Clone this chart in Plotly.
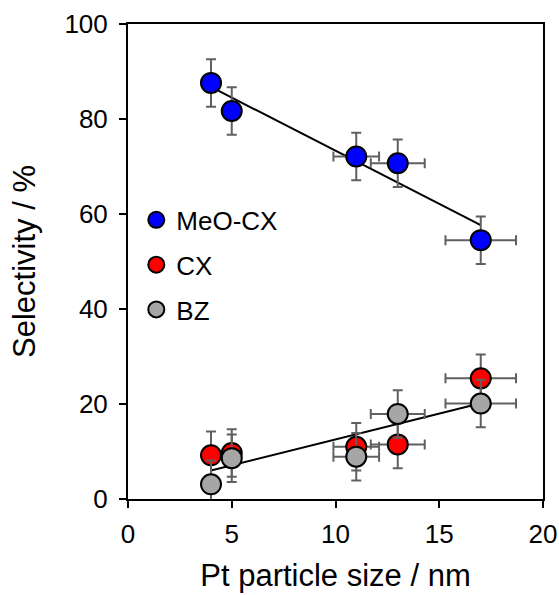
import numpy as np
import plotly.graph_objects as go

# Data
size_nm = [4.0, 5.0, 11.0, 13.0, 17.0]
size_err = [0.0, 0.0, 1.1, 1.3, 1.7]
meo_cx = [87.6, 81.7, 72.1, 70.7, 54.5]
cx = [9.2, 9.7, 11.0, 11.5, 25.4]
bz = [3.1, 8.6, 8.9, 17.9, 20.1]
sel_err = [5.0, 5.0, 5.0, 5.0, 5.0]

FONT = "Liberation Sans, Arial, sans-serif"
ERR_COLOR = "#606060"

fig = go.Figure()

# Linear trend lines (fit to the data)
xs = np.array(size_nm)
xline = np.array([xs.min(), xs.max()])
p_up = np.polyfit(xs, np.array(meo_cx), 1)
p_low = np.polyfit(np.concatenate([xs, xs]), np.concatenate([cx, bz]), 1)
for p in (p_up, p_low):
    fig.add_trace(go.Scatter(x=xline, y=np.polyval(p, xline), mode="lines",
                             line=dict(color="black", width=2),
                             showlegend=False, hoverinfo="skip"))

series = [("MeO-CX", meo_cx, "#0000ff"), ("CX", cx, "#ff0000"), ("BZ", bz, "#a6a6a6")]
for name, vals, col in series:
    fig.add_trace(go.Scatter(
        x=size_nm, y=vals, mode="markers", name=name, legendgroup=name,
        marker=dict(size=20, color=col, line=dict(color="black", width=2)),
        error_y=dict(type="data", array=sel_err, visible=True, color=ERR_COLOR,
                     thickness=2, width=5),
        error_x=dict(type="data", array=size_err, visible=True, color=ERR_COLOR,
                     thickness=2, width=5),
        cliponaxis=False,
    ))

axis_common = dict(showline=True, linecolor="black", linewidth=2, mirror=True,
                   ticks="outside", ticklen=7, tickwidth=2, tickcolor="black",
                   showgrid=False, zeroline=False, automargin=False,
                   tickfont=dict(family=FONT, size=26, color="black"))

fig.update_layout(
    width=559, height=595,
    margin=dict(l=128, r=16, t=24, b=96),
    paper_bgcolor="white", plot_bgcolor="white",
    font=dict(family=FONT, color="black"),
    xaxis=dict(range=[0, 20], dtick=5, ticklabelstandoff=4,
               title=dict(text="Pt particle size / nm", font=dict(family=FONT, size=31), standoff=16),
               **axis_common),
    yaxis=dict(range=[0, 100], dtick=20, ticklabelstandoff=6,
               title=dict(text="Selectivity / %", font=dict(family=FONT, size=31), standoff=20),
               **axis_common),
    legend=dict(x=0.02, y=0.637, xanchor="left", yanchor="top",
                bgcolor="rgba(0,0,0,0)", borderwidth=0,
                font=dict(family=FONT, size=26, color="black"),
                tracegroupgap=8, itemsizing="trace"),
    showlegend=True,
)

fig.write_html("out.html")
